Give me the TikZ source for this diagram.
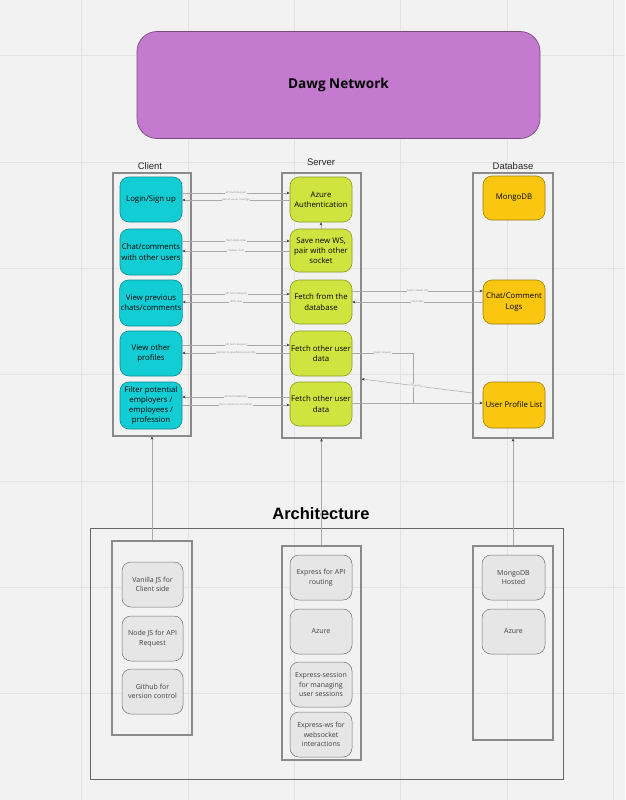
\documentclass[tikz,border=0pt]{standalone}
\usepackage{fontspec}
\setmainfont{Open Sans}
\newfontfamily\arialfont{Liberation Sans}
\usetikzlibrary{arrows.meta,calc}

\definecolor{bg}{HTML}{F2F2F2}
\definecolor{gridc}{HTML}{E3E3E3}
\definecolor{purplefill}{HTML}{C47BCF}
\definecolor{purpleline}{HTML}{7A4A80}
\definecolor{cyanfill}{HTML}{13CDD4}
\definecolor{cyanline}{HTML}{0E8A90}
\definecolor{limefill}{HTML}{CFE43E}
\definecolor{limeline}{HTML}{8A9A28}
\definecolor{amberfill}{HTML}{FAC710}
\definecolor{amberline}{HTML}{9E7E0A}
\definecolor{techfill}{HTML}{E6E6E6}
\definecolor{frame}{HTML}{8A8A8A}
\definecolor{wire}{HTML}{A8A8A8}

\tikzset{
  box/.style={rounded corners=9pt, minimum width=62pt, align=center,
    font=\fontsize{7.8}{10.2}\selectfont, inner sep=1pt, line width=0.6pt},
  clientnode/.style={box, fill=cyanfill, draw=cyanline},
  servernode/.style={box, fill=limefill, draw=limeline},
  dbnode/.style={box, fill=amberfill, draw=amberline},
  technode/.style={box, fill=techfill, draw=black!55, line width=0.5pt,
    font=\fontsize{7}{9.5}\selectfont, text=black!75},
  column/.style={draw=frame, line width=1.1pt, inner sep=0pt},
  colhead/.style={font=\arialfont\fontsize{9.5}{10}\selectfont, text=black!85},
  wirearrow/.style={draw=wire, line width=0.5pt,
    -{Stealth[length=3pt,width=2.6pt,color=black!80]}},
  lbl/.style={font=\fontsize{2.6}{3}\selectfont, text=black!45, fill=bg,
    inner sep=0.6pt},
}

\begin{document}
\begin{tikzpicture}[x=1pt,y=-1pt]
\useasboundingbox (0,0) rectangle (625,800);
\fill[bg] (0,0) rectangle (625,800);

% background grid
\foreach \k in {0,...,6} {
  \draw[gridc, line width=0.6pt] ({-24.6+106.3*\k},0) -- ({-24.6+106.3*\k},800);
  \draw[gridc, line width=0.6pt] (0,{55.7+106.3*\k}) -- (625,{55.7+106.3*\k});
}

% title banner
\node[draw=purpleline, fill=purplefill, rounded corners=20pt, line width=0.7pt,
  minimum width=403pt, minimum height=107pt,
  font=\bfseries\fontsize{13.6}{15}\selectfont] (title) at (338.5,85) {Dawg Network};

% column frames
\node[column, minimum width=78pt, minimum height=263pt] (clientcol) at (152,304.5) {};
\node[column, minimum width=79pt, minimum height=265pt] (servercol) at (321.5,305.5) {};
\node[column, minimum width=80pt, minimum height=265pt] (dbcol) at (513,305.5) {};
\node[colhead] (clienthead) at (150,166) {Client};
\node[colhead] (serverhead) at (321,162) {Server};
\node[colhead] (dbhead) at (513,166) {Database};

% client features
\node[clientnode, minimum height=45pt] (c1) at (151,199.5) {Login/Sign up};
\node[clientnode, minimum height=46pt] (c2) at (151,252) {Chat/comments\\with other users};
\node[clientnode, minimum height=46pt] (c3) at (151,303) {View previous\\chats/comments};
\node[clientnode, minimum height=45pt] (c4) at (151,353.5) {View other\\profiles};
\node[clientnode, minimum height=47pt] (c5) at (151,405.5) {Filter potential\\employers /\\employees /\\profession};

% server handlers
\node[servernode, minimum height=45pt] (s1) at (321,199.5) {Azure\\Authentication};
\node[servernode, minimum height=43pt] (s2) at (321,250.5) {Save new WS,\\pair with other\\socket};
\node[servernode, minimum height=44pt] (s3) at (321,302) {Fetch from the\\database};
\node[servernode, minimum height=45pt] (s4) at (321,353.5) {Fetch other user\\data};
\node[servernode, minimum height=44pt] (s5) at (321,404) {Fetch other user\\data};

% database collections
\node[dbnode, minimum height=44pt] (d1) at (514,198) {MongoDB};
\node[dbnode, minimum height=44pt] (d2) at (514,302) {Chat/Comment\\Logs};
\node[dbnode, minimum height=46pt] (d3) at (514,405) {User Profile List};

% client <-> server requests
\draw[wirearrow] (c1.east |- 0,193) -- node[lbl]{API Auth Request} (s1.west |- 0,193);
\draw[wirearrow] (s1.west |- 0,200) -- node[lbl]{Return issuer message} (c1.east |- 0,200);
\draw[wirearrow] (c2.east |- 0,241) -- node[lbl]{Open Websocket} (s2.west |- 0,241);
\draw[wirearrow] (s2.west |- 0,251) -- node[lbl]{Update chats} (c2.east |- 0,251);
\draw[wirearrow] (c3.east |- 0,294) -- node[lbl]{API Fetch Request} (s3.west |- 0,294);
\draw[wirearrow] (s3.west |- 0,302) -- node[lbl]{JSON data} (c3.east |- 0,302);
\draw[wirearrow] (c4.east |- 0,345) -- node[lbl]{API Fetch Request} (s4.west |- 0,345);
\draw[wirearrow] (s4.west |- 0,353) -- node[lbl]{Redirect to specified user profile} (c4.east |- 0,353);
\draw[wirearrow] (s5.west |- 0,397) -- node[lbl]{API Fetch (Refresh)} (c5.east |- 0,397);
\draw[wirearrow] (c5.east |- 0,405) -- node[lbl]{Return JSON List of profiles} (s5.west |- 0,405);
\draw[wirearrow] (s2.north) -- (s1.south);

% server <-> database
\draw[wirearrow] (s3.east |- 0,291) -- node[lbl]{Async / Await call} (d2.west |- 0,291);
\draw[wirearrow] (d2.west |- 0,302) -- node[lbl]{Send data} (s3.east |- 0,302);
\coordinate (bend) at (413,403);
\draw[wirearrow] (s4.east |- 0,353) -- node[lbl]{Async request} (bend |- 0,353) -- (bend) -- (d3.west |- bend);
\draw[draw=wire, line width=0.5pt] (s5.east |- bend) -- (bend);
\draw[wirearrow] (dbcol.west |- 0,393) -- node[lbl, sloped]{Response} (servercol.east |- 0,379);

% architecture section
\node[font=\arialfont\bfseries\fontsize{16.5}{18}\selectfont] (archtitle) at (321,514) {Architecture};
\node[draw=black!60, line width=0.9pt, minimum width=473pt, minimum height=251pt] (archbox) at (326.5,653.5) {};
\node[column, minimum width=80pt, minimum height=194pt] (clientstack) at (152,638) {};
\node[column, minimum width=79pt, minimum height=214pt] (serverstack) at (321.5,653) {};
\node[column, minimum width=80pt, minimum height=194pt] (dbstack) at (513,643) {};

\node[technode, minimum width=61pt, minimum height=45pt] (t1) at (152.5,584.5) {Vanilla JS for\\Client side};
\node[technode, minimum width=61pt, minimum height=45pt] (t2) at (152.5,638.5) {Node JS for API\\Request};
\node[technode, minimum width=61pt, minimum height=45pt] (t3) at (152.5,691.5) {Github for\\version control};
\node[technode, minimum height=45pt] (t4) at (321,577.5) {Express for API\\routing};
\node[technode, minimum height=45pt] (t5) at (321,631.5) {Azure};
\node[technode, minimum height=45pt] (t6) at (321,684.5) {Express-session\\for managing\\user sessions};
\node[technode, minimum height=45pt] (t7) at (321,734.5) {Express-ws for\\websocket\\interactions};
\node[technode, minimum width=63pt, minimum height=45pt] (t8) at (513.5,577.5) {MongoDB\\Hosted};
\node[technode, minimum width=63pt, minimum height=45pt] (t9) at (513.5,631.5) {Azure};

% stacks feed the layers above
\draw[wirearrow] (clientstack.north) -- (clientcol.south);
\draw[wirearrow] (serverstack.north) -- (servercol.south);
\draw[wirearrow] (dbstack.north) -- (dbcol.south);
\end{tikzpicture}
\end{document}
